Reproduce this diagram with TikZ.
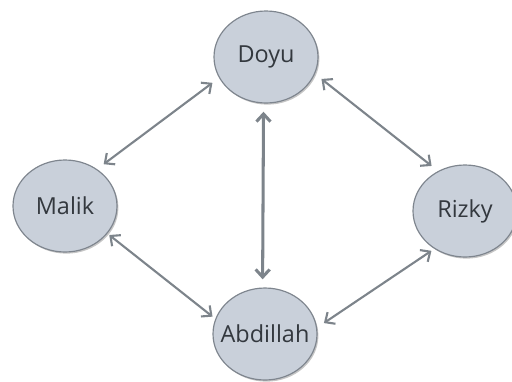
\documentclass[tikz,border=0pt]{standalone}
\usepackage{fontspec}
\setmainfont{Open Sans}
\usepackage{tikz}
\usetikzlibrary{shapes.geometric, arrows.meta, shadows}
\definecolor{nodefill}{HTML}{C9D0DA}
\definecolor{nodeline}{HTML}{7E858E}
\definecolor{linkgray}{HTML}{7D848B}
\definecolor{textgray}{HTML}{33383E}
\newcommand{\nm}[1]{\makebox[0pt]{#1}}

\begin{document}
\begin{tikzpicture}[
x=0.03cm, y=-0.03cm,
person/.style={ellipse, minimum width=3.12cm, minimum height=2.76cm, inner sep=0pt, draw=nodeline, line width=1pt, fill=nodefill, text=textgray, font=\fontsize{20}{24}\selectfont, drop shadow={shadow xshift=1.2pt, shadow yshift=-1.4pt, fill=black!45, opacity=.5}},
link/.style={{Straight Barb[length=6.5pt,width=12pt]}-{Straight Barb[length=6.5pt,width=12pt]}, line width=1.8pt, draw=linkgray, shorten <=7pt, shorten >=7pt},
mainlink/.style={link, line width=2.6pt}
]
\useasboundingbox (0,0) rectangle (512,381);
% the four people
\node[person] (doyu) at (266,57) {\nm{Doyu}};
\node[person] (malik) at (65,206) {\nm{Malik}};
\node[person] (rizky) at (465,211) {\nm{Rizky}};
\node[person] (abdillah) at (265,334) {\nm{Abdillah}};
% two-way links between them
\draw[link] (doyu.204) -- (malik.49);
\draw[link] (doyu.-19) -- (rizky.124);
\draw[link, shorten <=2pt, shorten >=3pt] (malik.-33) -- (abdillah.163);
\draw[link, shorten >=3pt] (abdillah.7) -- (rizky.231);
\draw[mainlink] (doyu.-93) -- (abdillah.93);
\end{tikzpicture}
\end{document}
